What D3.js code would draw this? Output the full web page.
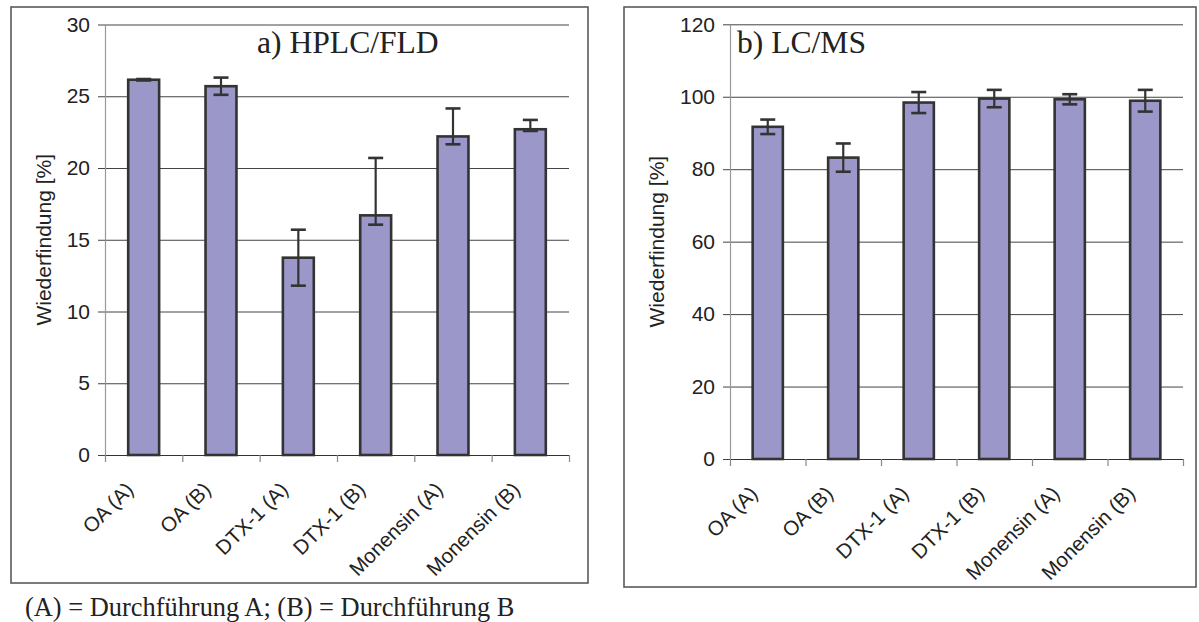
<!DOCTYPE html>
<html>
<head>
<meta charset="utf-8">
<script src="https://cdn.jsdelivr.net/npm/d3@7"></script>
<style>
  html, body { margin: 0; padding: 0; background: #fff; }
  svg { display: block; }
</style>
</head>
<body>
<svg id="chart" width="1199" height="622"></svg>
<script>
// Recovery (Wiederfindung) per analyte and run, two methods
const categories = ["OA (A)", "OA (B)", "DTX-1 (A)", "DTX-1 (B)", "Monensin (A)", "Monensin (B)"];

const hplcValues    = [26.15, 25.7, 13.75, 16.7, 22.2, 22.7];
const hplcErrPlus   = [0.05, 0.6, 1.95, 4.0, 1.95, 0.65];
const hplcErrMinus  = [0.05, 0.6, 1.95, 0.65, 0.55, 0.12];
const hplcTicks     = [0, 5, 10, 15, 20, 25, 30];

const lcmsValues    = [91.7, 83.2, 98.4, 99.5, 99.3, 98.9];
const lcmsErrPlus   = [2.0, 3.9, 2.9, 2.4, 1.4, 3.0];
const lcmsErrMinus  = [2.0, 3.9, 2.9, 2.4, 1.4, 3.0];
const lcmsTicks     = [0, 20, 40, 60, 80, 100, 120];

const yTitle = "Wiederfindung [%]";
const footnote = "(A) = Durchführung A; (B) = Durchführung B";

const SANS = "'Liberation Sans', Arial, sans-serif";
const SERIF = "'Liberation Serif', 'Times New Roman', serif";
const BAR_FILL = "#9b97c9";
const DARK = "#333";

const svg = d3.select("#chart");

function drawPanel(p) {
  const g = svg.append("g");

  // outer chart frame
  g.append("rect")
    .attr("x", p.frame[0]).attr("y", p.frame[1])
    .attr("width", p.frame[2] - p.frame[0]).attr("height", p.frame[3] - p.frame[1])
    .attr("fill", "#fff").attr("stroke", "#5a5a5a").attr("stroke-width", 1.6);

  const [x0, y0, x1, y1] = p.plot; // left, top, right, bottom(zero line)

  const y = d3.scaleLinear().domain([p.ticks[0], p.ticks[p.ticks.length - 1]]).range([y1, y0]);
  const x = d3.scaleBand().domain(categories).range([x0, x1])
    .paddingInner(0.6).paddingOuter(0.3);
  const xEdges = d3.scaleLinear().domain([0, categories.length]).range([x0, x1]);

  // horizontal gridlines
  g.append("g")
    .attr("transform", `translate(${x0},0)`)
    .call(d3.axisLeft(y).tickValues(p.ticks.slice(1)).tickSize(-(x1 - x0)).tickFormat(""))
    .call(a => a.select(".domain").remove())
    .call(a => a.selectAll("line").attr("stroke", "#444").attr("stroke-width", 1));

  // y axis with outward ticks and labels
  g.append("g")
    .attr("transform", `translate(${x0},0)`)
    .call(d3.axisLeft(y).tickValues(p.ticks).tickSize(7).tickPadding(8).tickSizeOuter(0))
    .call(a => a.select(".domain").attr("stroke", "#999").attr("stroke-width", 1.2))
    .call(a => a.selectAll(".tick line").attr("stroke", "#444"))
    .call(a => a.selectAll("text")
      .attr("font-family", SANS).attr("font-size", 21).attr("fill", "#222"));

  // category axis: tick marks on category boundaries
  g.append("g")
    .attr("transform", `translate(0,${y1})`)
    .call(d3.axisBottom(xEdges).tickValues(d3.range(categories.length + 1)).tickSize(7).tickFormat("").tickSizeOuter(0))
    .call(a => a.select(".domain").attr("stroke", "#333").attr("stroke-width", 1.2))
    .call(a => a.selectAll(".tick line").attr("stroke", "#888").attr("stroke-width", 1.2));

  // bars
  g.append("g").selectAll("rect")
    .data(p.values)
    .join("rect")
    .attr("x", (d, i) => x(categories[i]))
    .attr("y", d => y(d))
    .attr("width", x.bandwidth())
    .attr("height", d => y(0) - y(d))
    .attr("fill", BAR_FILL)
    .attr("stroke", DARK)
    .attr("stroke-width", 2.6);

  // error bars
  const cap = 7.5;
  const eb = g.append("g").attr("stroke", DARK);
  p.values.forEach((v, i) => {
    const cx = x(categories[i]) + x.bandwidth() / 2;
    const hi = y(v + p.errPlus[i]);
    const lo = y(v - p.errMinus[i]);
    eb.append("line").attr("x1", cx).attr("x2", cx).attr("y1", hi).attr("y2", lo).attr("stroke-width", 2.2);
    eb.append("line").attr("x1", cx - cap).attr("x2", cx + cap).attr("y1", hi).attr("y2", hi).attr("stroke-width", 2.6);
    eb.append("line").attr("x1", cx - cap).attr("x2", cx + cap).attr("y1", lo).attr("y2", lo).attr("stroke-width", 2.6);
  });

  // rotated category labels
  g.append("g").selectAll("text")
    .data(categories)
    .join("text")
    .attr("transform", d => `translate(${x(d) + x.bandwidth() / 2 - 9},${y1 + 36}) rotate(-45)`)
    .attr("text-anchor", "end")
    .attr("font-family", SANS).attr("font-size", 20.5).attr("fill", "#222")
    .text(d => d);

  // y axis title
  g.append("text")
    .attr("transform", `translate(${p.yTitleX},${(y0 + y1) / 2}) rotate(-90)`)
    .attr("text-anchor", "middle")
    .attr("dominant-baseline", "central")
    .attr("font-family", SANS).attr("font-size", 21).attr("fill", "#222")
    .text(yTitle);

  // panel title
  g.append("text")
    .attr("x", p.titleX).attr("y", 53)
    .attr("font-family", SERIF).attr("font-size", 31.6).attr("fill", "#222")
    .text(p.title);
}

drawPanel({
  frame: [11, 7, 588, 583],
  plot: [105, 24.5, 569, 455],
  ticks: hplcTicks,
  values: hplcValues,
  errPlus: hplcErrPlus,
  errMinus: hplcErrMinus,
  title: "a) HPLC/FLD",
  titleX: 257,
  yTitleX: 43
});

drawPanel({
  frame: [624, 7, 1196, 587],
  plot: [730, 24.3, 1183, 459],
  ticks: lcmsTicks,
  values: lcmsValues,
  errPlus: lcmsErrPlus,
  errMinus: lcmsErrMinus,
  title: "b) LC/MS",
  titleX: 737,
  yTitleX: 656
});

// note below the left chart
svg.append("text")
  .attr("x", 25).attr("y", 616)
  .attr("font-family", SERIF).attr("font-size", 26.4).attr("fill", "#222")
  .text(footnote);
</script>
</body>
</html>
